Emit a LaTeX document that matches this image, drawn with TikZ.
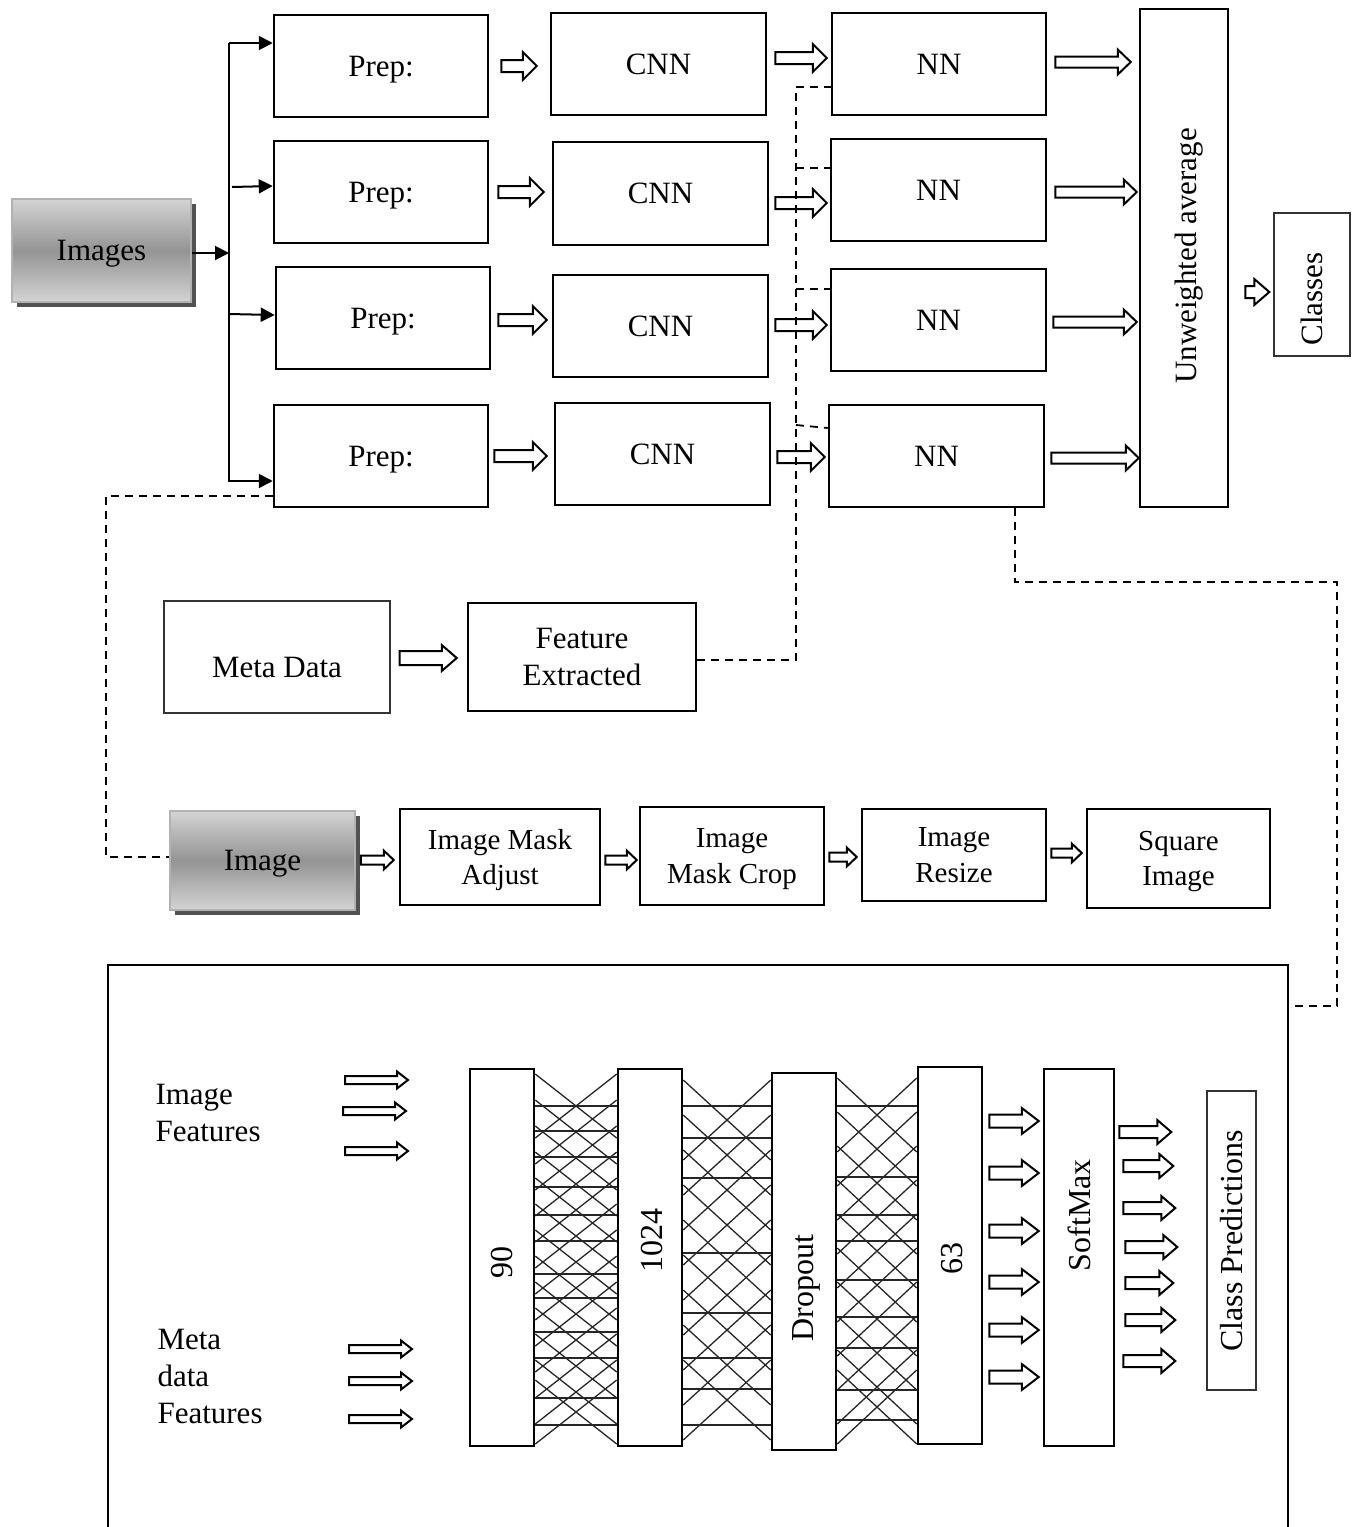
\documentclass[tikz,border=0pt]{standalone}
\usepackage{fontspec}
\setmainfont{Liberation Serif}
\usetikzlibrary{calc,arrows.meta}
\newcommand\fsA{\fontsize{31}{37}\selectfont}
\newcommand\fsB{\fontsize{29}{35.5}\selectfont}
\newcommand\fsD{\fontsize{32}{38}\selectfont}
% box by corners: [style]{name}{x1}{y1}{x2}{y2}{text}
\newcommand\bx[7][]{\node[box,#1,minimum width={(#5-#3)*1pt},minimum height={(#6-#4)*1pt}] (#2) at ({(#3+#5)/2},{(#4+#6)/2}) {#7};}
% hollow arrow: {start}{end}{shaft half}{head half}{head length}
\newcommand\harrow[5]{\draw[harrowline] let \p1=#1, \p2=#2 in (\x1,\y1+#3pt) -- (\x2-#5pt,\y1+#3pt) -- (\x2-#5pt,\y1+#4pt) -- (\x2,\y1) -- (\x2-#5pt,\y1-#4pt) -- (\x2-#5pt,\y1-#3pt) -- (\x1,\y1-#3pt) -- cycle;}
% mesh between two layers: {left}{right}{horizontal ys}{diagonal start ys}{drop}
\newcommand\mesh[5]{%
  \foreach \yy in {#3} {\draw[meshline] (#1.east |- 0,\yy) -- (#2.west |- 0,\yy);}
  \foreach \yy in {#4} {\draw[meshline] (#1.east |- 0,\yy) -- (#2.west |- 0,{\yy+#5});
                        \draw[meshline] (#1.east |- 0,{\yy+#5}) -- (#2.west |- 0,\yy);}}
\begin{document}
\begin{tikzpicture}[x=1pt,y=-1pt,
  box/.style={draw,line width=2.5pt,inner sep=0pt,align=center,font=\fsA,text depth=0pt},
  thinbox/.style={draw=black!80,line width=1.4pt},
  gbox/.style={draw=black!30,line width=1.5pt,top color=black!17,bottom color=black!17,middle color=black!42,font=\fsA},
  pipe/.style={font=\fsB},
  harrowline/.style={draw,line width=2pt,fill=white,line join=miter},
  treeline/.style={line width=2pt},
  treearrow/.style={line width=2pt,-{Triangle[length=14pt,width=14pt]}},
  dashline/.style={line width=1.8pt,dash pattern=on 8pt off 6pt},
  meshline/.style={line width=1.3pt,black!85},
  lbl/.style={font=\fsA,text depth=0pt,inner sep=0pt}]
\useasboundingbox (0,0) rectangle (1361,1527);

% ---------- top rows ----------
\bx{prep1}{274}{15}{488}{117}{Prep:}
\bx{prep2}{274}{141}{488}{243}{Prep:}
\bx{prep3}{276}{267}{490}{369}{Prep:}
\bx{prep4}{274}{405}{488}{507}{Prep:}
\bx{cnn1}{551}{13}{766}{115}{CNN}
\bx{cnn2}{553}{142}{768}{245}{CNN}
\bx{cnn3}{553}{275}{768}{377}{CNN}
\bx{cnn4}{555}{403}{770}{505}{CNN}
\bx{nn1}{832}{13}{1046}{115}{NN}
\bx{nn2}{831}{139}{1046}{241}{NN}
\bx{nn3}{831}{269}{1046}{371}{NN}
\bx{nn4}{829}{405}{1044}{507}{NN}
\bx{avg}{1140}{9}{1228}{507}{}
\node[lbl,rotate=90] (avgtext) at (1186,256) {Unweighted average};
\bx[thinbox]{classes}{1274}{213}{1350}{356}{}
\node[lbl,rotate=90] (classestext) at (1312,299) {Classes};

% Images box with shadow
\fill[black!68] (17,204) rectangle (196,307);
\bx[gbox]{images}{12}{199}{191}{302}{Images}

% tree
\coordinate (sptop) at (229,43);
\coordinate (spbot) at (229,482);
\coordinate (spmid) at (229,253);
\draw[treeline] (sptop) -- (spbot);
\draw[treearrow] (images.east |- spmid) -- (spmid);
\draw[treearrow] (sptop) -- (prep1.west |- sptop);
\draw[treearrow] (232,187) -- (prep2.west |- 0,186);
\draw[treearrow] (229,314) -- (prep3.west |- 0,315);
\draw[treearrow] (229,481) -- (prep4.west |- 0,481);

% hollow arrows top
\harrow{($(prep1.east |- 0,66)+(12,0)$)}{($(cnn1.west |- 0,66)+(-13,0)$)}{6}{14}{14}
\harrow{($(prep2.east |- 0,192)+(9,0)$)}{($(cnn2.west |- 0,192)+(-8,0)$)}{6}{14}{14}
\harrow{($(prep3.east |- 0,320)+(7,0)$)}{($(cnn3.west |- 0,320)+(-5,0)$)}{6}{14}{14}
\harrow{($(prep4.east |- 0,456)+(5,0)$)}{($(cnn4.west |- 0,456)+(-7,0)$)}{6}{14}{14}
\harrow{($(cnn1.east |- 0,58)+(8,0)$)}{($(nn1.west |- 0,58)+(-4,0)$)}{6}{14}{14}
\harrow{($(cnn2.east |- 0,203)+(6,0)$)}{($(nn2.west |- 0,203)+(-3,0)$)}{6}{14}{14}
\harrow{($(cnn3.east |- 0,325)+(6,0)$)}{($(nn3.west |- 0,325)+(-3,0)$)}{6}{14}{14}
\harrow{($(cnn4.east |- 0,457)+(6,0)$)}{($(nn4.west |- 0,457)+(-3,0)$)}{6}{14}{14}
\harrow{($(nn1.east |- 0,62)+(8,0)$)}{($(avg.west |- 0,62)+(-8,0)$)}{5.5}{12.5}{13}
\harrow{($(nn2.east |- 0,192)+(8,0)$)}{($(avg.west |- 0,192)+(-2,0)$)}{5.5}{12.5}{13}
\harrow{($(nn3.east |- 0,322)+(6,0)$)}{($(avg.west |- 0,322)+(-2,0)$)}{5.5}{12.5}{13}
\harrow{($(nn4.east |- 0,458)+(6,0)$)}{($(avg.west |- 0,458)+(0,0)$)}{5.5}{12.5}{13}
\harrow{($(avg.east |- 0,292)+(16,0)$)}{($(classes.west |- 0,292)+(-4,0)$)}{6}{13}{15}

% ---------- meta data row ----------
\bx[thinbox]{meta}{164}{601}{390}{713}{}
\node[lbl] (metatext) at (277,667) {Meta Data};
\bx{feat}{468}{603}{696}{711}{Feature\\Extracted}
\harrow{($(meta.east |- 0,658)+(9,0)$)}{($(feat.west |- 0,658)+(-10,0)$)}{7}{13}{15}

% dashed feature links
\coordinate (fv) at (796,660);
\draw[dashline] (feat.east |- fv) -- (fv) -- (796,87) -- (nn1.west |- 0,87);
\draw[dashline] (796,168) -- (nn2.west |- 0,168);
\draw[dashline] (796,289) -- (nn3.west |- 0,289);
\draw[dashline] (796,425) -- (nn4.west |- 0,428);

% ---------- pipeline row ----------
\fill[black!68] (175,816) rectangle (360,915);
\bx[gbox]{image}{170}{811}{355}{910}{Image}
\bx[pipe]{mask}{400}{809}{600}{905}{Image Mask\\Adjust}
\bx[pipe]{crop}{640}{807}{824}{905}{Image\\Mask Crop}
\bx[pipe]{resize}{862}{809}{1046}{901}{Image\\Resize}
\bx[pipe]{square}{1087}{809}{1270}{908}{Square\\Image}
\harrow{($(image.east |- 0,860)+(5,0)$)}{($(mask.west |- 0,860)+(-5,0)$)}{4.5}{9.5}{10}
\harrow{($(mask.east |- 0,860)+(4,0)$)}{($(crop.west |- 0,860)+(-2,0)$)}{4.5}{9.5}{10}
\harrow{($(crop.east |- 0,857)+(4,0)$)}{($(resize.west |- 0,857)+(-4,0)$)}{4.5}{9.5}{10}
\harrow{($(resize.east |- 0,853)+(4,0)$)}{($(square.west |- 0,853)+(-4,0)$)}{4.5}{9.5}{10}

% dashed prep4 -> image
\draw[dashline] (prep4.west |- 0,496) -- (106,496) -- (106,857) -- (image.west |- 0,857);

% ---------- network frame ----------
\node[minimum width=1180pt,minimum height=562pt,inner sep=0pt] (frame) at (698,1246) {};
\draw[line width=2.5pt] (frame.south west) -- (frame.north west) -- (frame.north east) -- (frame.south east);
\draw[dashline] (nn4.south -| 1015,0) -- (1015,582) -- (1337,582) -- (1337,1006) -- (frame.east |- 0,1006);

\node[anchor=west,align=left,font=\fsA] (imf) at (152,1113) {Image\\Features};
\node[anchor=west,align=left,font=\fsA] (mdf) at (154,1376) {Meta\\data\\Features};
\foreach \yy/\xa/\xb in {1080/345/408,1111/343/406,1151/345/408,1349/349/412,1381/349/412,1419/349/412}
  {\harrow{(\xa,\yy)}{(\xb,\yy)}{4}{8.5}{11}}

\bx{l90}{470}{1069}{534}{1446}{}
\bx{l1024}{618}{1069}{682}{1446}{}
\bx{drop}{772}{1073}{836}{1450}{}
\bx{l63}{918}{1067}{982}{1444}{}
\bx{soft}{1044}{1069}{1114}{1446}{}
\bx[thinbox]{pred}{1207}{1091}{1256}{1390}{}
\node[rotate=90,font=\fsD] (t90) at (502,1262) {90};
\node[rotate=90,font=\fsD] (t1024) at (652,1240) {1024};
\node[rotate=90,font=\fsD] (tdrop) at (806,1288) {Dropout};
\node[rotate=90,font=\fsD] (t63) at (952,1258) {63};
\node[rotate=90,font=\fsD] (tsoft) at (1079,1215) {SoftMax};
\node[rotate=90,font=\fsD] (tpred) at (1232,1241) {Class Predictions};

\mesh{l90}{l1024}{1106,1131,1157,1187,1215,1241,1274,1298,1332,1358,1398,1425}{1074,1100,1126,1152,1178,1204,1230,1256,1282,1308,1334,1360,1380}{64}
\mesh{l1024}{drop}{1106,1138,1178,1253,1313,1358,1389,1425}{1080,1115,1150,1185,1220,1255,1290,1325,1360}{80}
\mesh{drop}{l63}{1106,1177,1215,1241,1280,1317,1348,1390,1420}{1078,1112,1146,1180,1214,1248,1282,1316,1350,1370}{74}

\foreach \yy in {1121,1173,1231,1282,1330,1377}
  {\harrow{($(l63.east |- 0,\yy)+(6,0)$)}{($(soft.west |- 0,\yy)+(-4,0)$)}{6.5}{13}{17}}
\foreach \yy/\xa/\xb in {1132/1118/1172,1166/1122/1174,1208/1122/1176,1247/1124/1178,1283/1124/1174,1320/1124/1176,1361/1122/1176}
  {\harrow{($(soft.east |- 0,\yy)+(\xa-1114,0)$)}{($(pred.west |- 0,\yy)+(\xb-1207,0)$)}{6}{12}{14}}
\end{tikzpicture}
\end{document}
